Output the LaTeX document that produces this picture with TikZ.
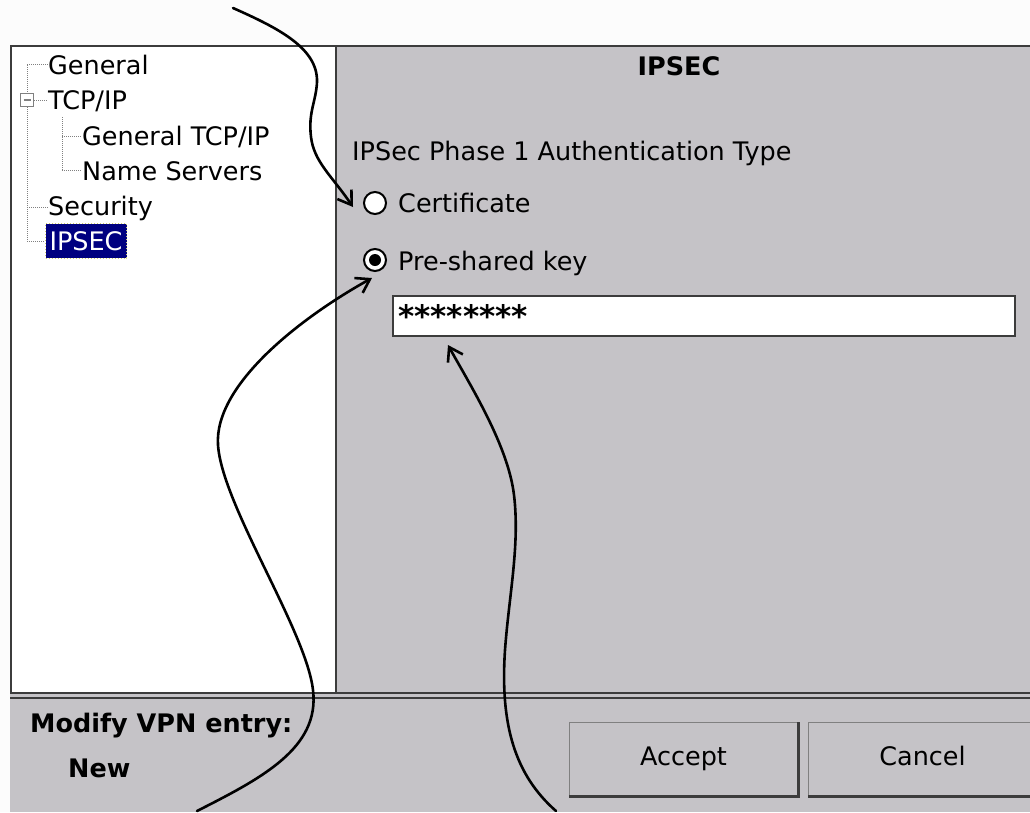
\documentclass[tikz,border=0pt]{standalone}
\usepackage{fontspec}
\setmainfont{DejaVu Sans}
\usepackage{tikz}
\usetikzlibrary{positioning,arrows.meta,calc}
\usepackage{xcolor}
\definecolor{wingrey}{RGB}{197,195,199}
\definecolor{winedge}{RGB}{60,60,60}
\definecolor{selblue}{RGB}{0,0,128}
\definecolor{focusdots}{RGB}{205,200,110}
\definecolor{pagewhite}{RGB}{252,252,252}

\begin{document}
\begin{tikzpicture}[x=1pt,y=-1pt,>={Straight Barb[length=13pt,width=17pt]},
  every node/.style={inner sep=0pt,font=\fontsize{25.5}{30}\selectfont},
  item/.style={anchor=base west},
  bolditem/.style={anchor=base west,font=\fontsize{25.5}{30}\selectfont\bfseries},
  treeline/.style={gray,line width=1pt,dash pattern=on 1pt off 1pt},
  radio/.style={circle,draw=black,line width=2pt,fill=white,minimum size=22pt},
  winbutton/.style={draw=gray,line width=1pt,fill=wingrey,minimum width=228pt,minimum height=73pt,text height=18.5pt,text depth=5pt,anchor=north west},
  pointer/.style={->,line width=2.6pt,line cap=round}]
\useasboundingbox[fill=pagewhite] (0,0) rectangle (1030,812);
\node[fill=wingrey,anchor=north west,minimum width=1020pt,minimum height=120pt] (statusbar) at (10,692) {};
\node[draw=winedge,line width=1.5pt,fill=white,anchor=north west,minimum width=325pt,minimum height=647pt] (treepane) at (10,45) {};
\node[draw=winedge,line width=1.5pt,fill=wingrey,anchor=north west,minimum width=700pt,minimum height=647pt] (formpane) at (335,45) {};
\draw[winedge,line width=1.5pt] ([yshift=-0.5pt]statusbar.north west) -- ([yshift=-0.5pt]statusbar.north east);
\draw[winedge,line width=1.5pt] ([yshift=-6pt]statusbar.north west) -- ([yshift=-6pt]statusbar.north east);

\node[item] (general) at (48,74) {General};
\node[item] (tcpip) at (48,109) {TCP/IP};
\node[item] (gentcp) at (82,145) {General TCP/IP};
\node[item] (names) at (82,180) {Name Servers};
\node[item] (security) at (48,215) {Security};
\node[fill=selblue,draw=focusdots,dotted,line width=1pt,text=white,anchor=west,inner xsep=4pt,inner ysep=8pt,text height=18.5pt,text depth=0pt] (ipsec) at (45,241) {IPSEC};
\coordinate (trunk) at (27,65);
\coordinate (subtrunk) at (62,117);
\draw[treeline] (trunk) |- (ipsec.west);
\draw[treeline] (general.west -| trunk) -- (general.west);
\draw[treeline] (security.west -| trunk) -- (security.west);
\draw[treeline] (subtrunk) |- (names.west);
\draw[treeline] (gentcp.west -| subtrunk) -- (gentcp.west);
\node[draw=gray,line width=1pt,fill=white,minimum size=13pt,
  path picture={\draw[line width=1.2pt] ([xshift=-3.5pt]path picture bounding box.center) -- ([xshift=3.5pt]path picture bounding box.center);}] (collapse) at (27,100) {};
\draw[treeline] (collapse.east) -- (collapse.east -| tcpip.west);

\node[anchor=base,font=\fontsize{25.5}{30}\selectfont\bfseries] (title) at (679,75) {IPSEC};
\node[item] (authtype) at (352,160) {IPSec Phase 1 Authentication Type};
\node[radio] (certradio) at (375,203) {};
\node[item] (certlbl) at (398,212) {Certificate};
\node[radio] (pskradio) at (375,260) {};
\node[circle,fill=black,minimum size=12pt] (pskdot) at (pskradio) {};
\node[item] (psklbl) at (398,270) {Pre-shared key};
\node[draw=winedge,line width=2pt,fill=white,anchor=north west,minimum width=622pt,minimum height=40pt] (pwbox) at (392,295) {};
\node[anchor=north west,font=\fontsize{31}{31}\selectfont\bfseries] (pwtext) at (398,304) {********};

\node[bolditem] (modify) at (30,732) {Modify VPN entry:};
\node[bolditem] (entryname) at (68,777) {New};
\node[winbutton] (accept) at (569,722) {Accept};
\node[winbutton] (cancel) at (808,722) {Cancel};
\draw[winedge,line width=3pt] (accept.north east) -- (accept.south east) -- (accept.south west);
\draw[winedge,line width=3pt] (cancel.north east) -- (cancel.south east) -- (cancel.south west);

\coordinate (srcA) at (233,8);
\coordinate (srcB) at (197,811);
\coordinate (srcC) at (556,811);
\draw[pointer] (srcA) .. controls (278,28) and (318,48) .. (317,82) .. controls (316,102) and (308,112) .. (311,137) .. controls (314,162) and (332,176) .. ($(certradio.west)+(-10,4)$);
\draw[pointer] (srcB) .. controls (262,778) and (320,748) .. (313,690) .. controls (306,630) and (222,505) .. (218,445) .. controls (214,385) and (300,318) .. ($(pskradio.south)+(-3,6)$);
\draw[pointer] (srcC) .. controls (515,775) and (500,725) .. (505,650) .. controls (509,595) and (520,545) .. (514,495) .. controls (508,445) and (470,385) .. ($(pwbox.south west)+(56,8)$);
\end{tikzpicture}
\end{document}
